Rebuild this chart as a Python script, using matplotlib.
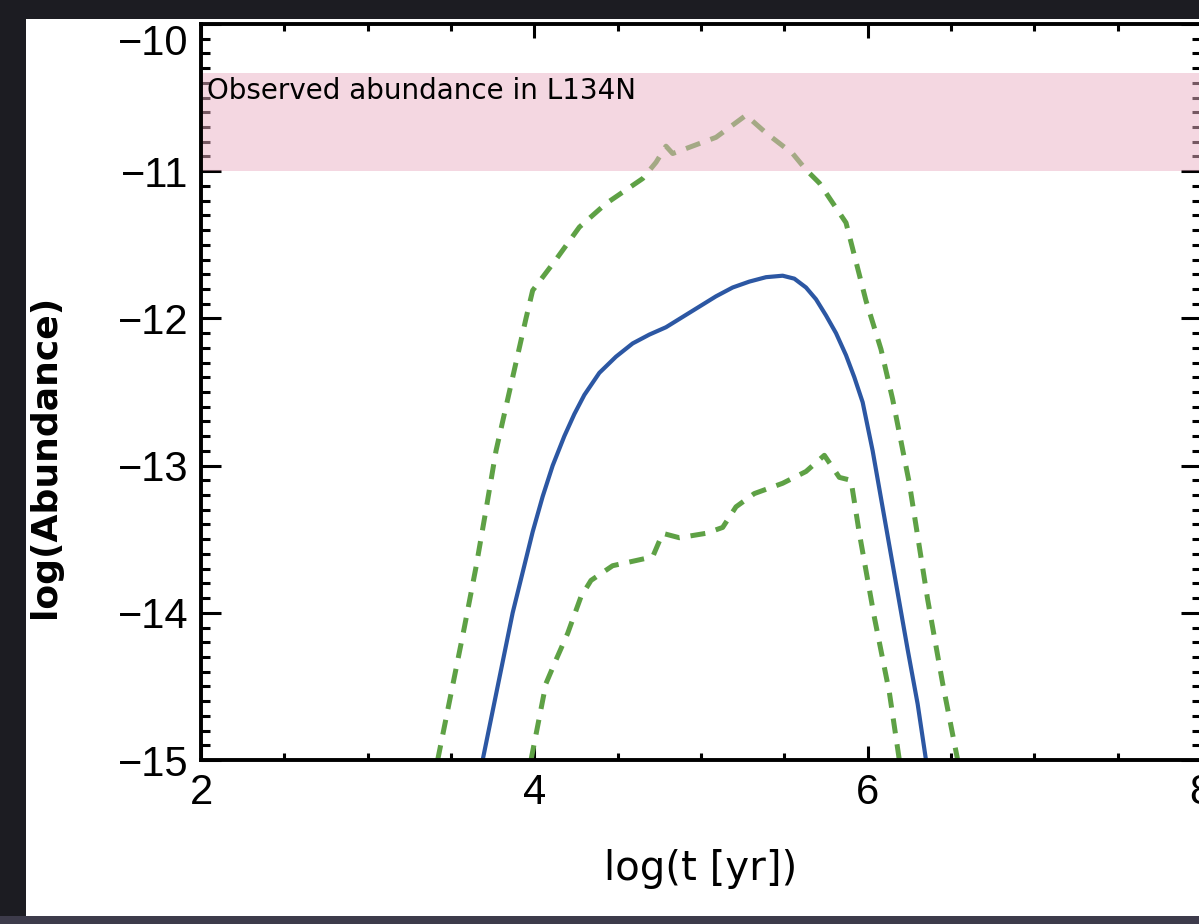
import matplotlib
matplotlib.use("Agg")
import matplotlib.pyplot as plt
from matplotlib.patches import Rectangle
from matplotlib.ticker import MultipleLocator

# model abundance vs. time (log-log)
t_model = [3.69, 3.78, 3.87, 3.99, 4.05, 4.11, 4.18, 4.24, 4.30, 4.39, 4.49, 4.59,
           4.69, 4.79, 4.89, 4.99, 5.09, 5.19, 5.29, 5.39, 5.49, 5.56, 5.63, 5.69,
           5.75, 5.81, 5.87, 5.92, 5.97, 6.03, 6.10, 6.17, 6.24, 6.30, 6.35]
abund_model = [-15.0, -14.5, -14.0, -13.45, -13.21, -13.0, -12.8, -12.65, -12.52,
               -12.37, -12.26, -12.17, -12.11, -12.06, -11.99, -11.92, -11.85, -11.79,
               -11.75, -11.72, -11.71, -11.73, -11.79, -11.87, -11.98, -12.10, -12.25,
               -12.40, -12.57, -12.90, -13.35, -13.80, -14.25, -14.62, -15.0]

# upper envelope
t_upper = [3.42, 3.50, 3.58, 3.65, 3.71, 3.77, 3.84, 3.90, 3.95, 3.99, 4.13, 4.27,
           4.43, 4.65, 4.73, 4.79, 4.83, 5.09, 5.27, 5.39, 5.55, 5.63, 5.71, 5.87,
           5.99, 6.08, 6.15, 6.25, 6.36, 6.45, 6.54]
abund_upper = [-15.0, -14.55, -14.1, -13.69, -13.3, -12.9, -12.55, -12.25, -12.0,
               -11.81, -11.60, -11.38, -11.22, -11.05, -10.94, -10.83, -10.88, -10.77,
               -10.62, -10.74, -10.88, -10.99, -11.08, -11.35, -11.88, -12.21, -12.55,
               -13.12, -13.91, -14.48, -15.0]

# lower envelope
t_lower = [3.98, 4.07, 4.13, 4.20, 4.28, 4.34, 4.47, 4.63, 4.71, 4.77, 4.87, 5.03,
           5.13, 5.21, 5.32, 5.49, 5.63, 5.74, 5.83, 5.90, 5.95, 6.04, 6.13, 6.19]
abund_lower = [-15.0, -14.48, -14.32, -14.14, -13.89, -13.78, -13.68, -13.64, -13.62,
               -13.46, -13.49, -13.46, -13.42, -13.28, -13.19, -13.12, -13.04, -12.93,
               -13.08, -13.10, -13.46, -14.03, -14.54, -15.0]

# observed range in L134N
obs_low, obs_high = -11.0, -10.33
obs_label = "Observed abundance in L134N"

x_ticks = [2, 4, 6, 8]
y_ticks = [-15, -14, -13, -12, -11, -10]

fig = plt.figure(figsize=(11.99, 9.24), dpi=100, facecolor="#1c1c22")
# white page plus the grey strip along the bottom
page = Rectangle((26 / 1199, 8 / 924), 1 - 26 / 1199, (916 - 19) / 924,
                 transform=fig.transFigure, facecolor="white", edgecolor="none")
strip = Rectangle((0, 0), 1, 8 / 924, transform=fig.transFigure,
                  facecolor="#3d3b4b", edgecolor="none")
for p in (page, strip):
    p.set_zorder(-5)
    fig.patches.append(p)

ax = fig.add_axes([201 / 1199, 164 / 924, 1000 / 1199, 736 / 924])
ax.set_zorder(1)
ax.set_facecolor("white")

green = "#5ea145"
ax.plot(t_upper, abund_upper, color=green, lw=3.6, ls=(0, (3, 2.2)), zorder=2)
ax.plot(t_lower, abund_lower, color=green, lw=3.6, ls=(0, (3, 2.2)), zorder=2)
ax.plot(t_model, abund_model, color="#2c57a3", lw=3.0, zorder=2)

ax.axhspan(obs_low, obs_high, facecolor="#ebb1c5", alpha=0.5, edgecolor="none", zorder=3)
ax.text(2.036, -10.455, obs_label, fontsize=20, family="DejaVu Sans",
        ha="left", va="center", color="black", zorder=5)

ax.set_xlim(2, 8)
ax.set_ylim(-15, -10)
ax.set_xticks(x_ticks)
ax.set_yticks(y_ticks)
ax.xaxis.set_minor_locator(MultipleLocator(0.5))
ax.yaxis.set_minor_locator(MultipleLocator(0.1))
ax.set_xticklabels([str(v) for v in x_ticks])
ax.set_yticklabels(["\u2212%d" % -v for v in y_ticks])

ax.tick_params(which="both", direction="in", top=True, right=True, colors="black")
ax.tick_params(axis="x", which="major", length=10, width=2.2, pad=9)
ax.tick_params(axis="x", which="minor", length=5, width=2.2)
ax.tick_params(axis="y", which="major", length=14.5, width=2.2, pad=9)
ax.tick_params(axis="y", which="minor", length=6.5, width=2.2)
for lab in ax.get_xticklabels() + ax.get_yticklabels():
    lab.set_fontfamily("Liberation Sans")
    lab.set_fontsize(30)
# top label sits just under the frame
ax.get_yticklabels()[-1].set_verticalalignment("top")

for sp in ax.spines.values():
    sp.set_linewidth(2.8)
    sp.set_zorder(4)

ax.set_xlabel("log(t [yr])", fontsize=29, family="DejaVu Sans", labelpad=26)
ax.set_ylabel("log(Abundance)", fontsize=26, family="DejaVu Sans", fontweight="bold")
ax.yaxis.set_label_coords(-0.139, 0.412)

fig.savefig("out.png", dpi=100, facecolor=fig.get_facecolor())
